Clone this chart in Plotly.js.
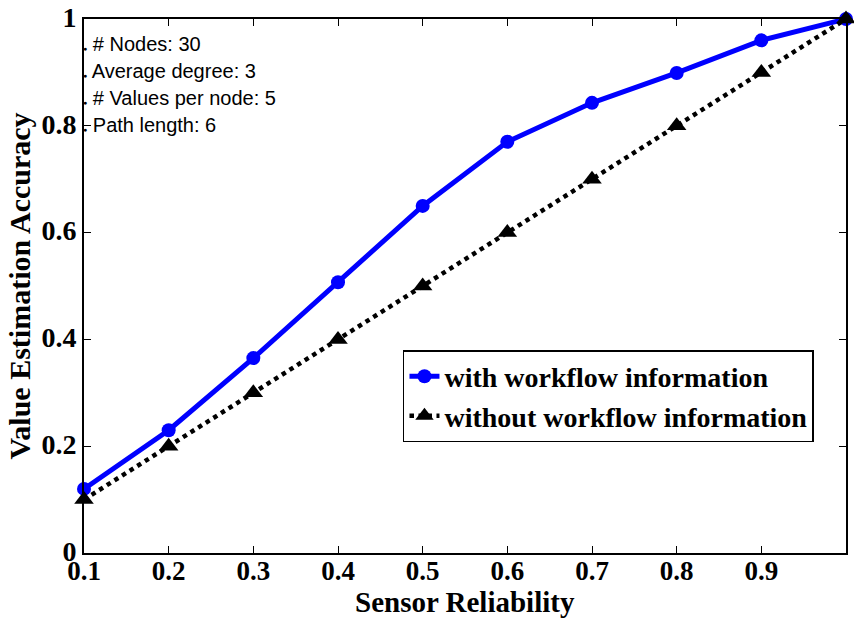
<!DOCTYPE html>
<html><head><meta charset="utf-8">
<script src="https://cdn.plot.ly/plotly-3.0.1.min.js"></script>
<style>body{margin:0;background:#fff}#chart{width:854px;height:618px}</style>
</head><body><div id="chart"></div>
<script>
var reliability = [0.1,0.2,0.3,0.4,0.5,0.6,0.7,0.8,0.9,1.0];
var withWorkflow = [0.12,0.23,0.365,0.507,0.65,0.77,0.843,0.899,0.96,1.0];
var withoutWorkflow = [0.1,0.2,0.3,0.4,0.5,0.6,0.7,0.8,0.9,1.0];
var xTickVals = [0.1,0.2,0.3,0.4,0.5,0.6,0.7,0.8,0.9];
var xTickText = ['0.1','0.2','0.3','0.4','0.5','0.6','0.7','0.8','0.9'];
var yTickVals = [0,0.2,0.4,0.6,0.8,1];
var yTickText = ['0','0.2','0.4','0.6','0.8','1'];
var infoLines = ['# Nodes: 30','Average degree: 3','# Values per node: 5','Path length: 6'];
var infoY = [0.953,0.903,0.852,0.802];

var traces = [
  {x: reliability, y: withWorkflow, mode:'lines+markers', name:'with workflow information',
   line:{color:'#0000ff', width:5}, marker:{symbol:'circle', size:14, color:'#0000ff'}, cliponaxis:false},
  {x: reliability, y: withoutWorkflow, mode:'lines+markers', name:'without workflow information',
   line:{color:'#000000', width:4.5, dash:'dot'}, marker:{symbol:'triangle-up', size:17, color:'#000000'}, cliponaxis:false}
];
var serif = 'Liberation Serif, Times New Roman, serif';
var annotations = infoLines.map(function(t,i){
  return {xref:'x', yref:'y', x:0.1, y:infoY[i], xanchor:'left', yanchor:'middle', xshift:-3,
    text:'<span style="font-size:7px">●</span> '+t, showarrow:false,
    font:{family:'Liberation Sans, Arial, sans-serif', size:20, color:'#000'}};
});
annotations.push({xref:'paper', yref:'paper', x:0.5, y:-0.091, xanchor:'center', yanchor:'middle',
  text:'<b>Sensor Reliability</b>', showarrow:false, font:{family:serif, size:29, color:'#000'}});
var layout = {
  width:854, height:618,
  margin:{l:84, r:8, t:19, b:65},
  paper_bgcolor:'#fff', plot_bgcolor:'#fff',
  showlegend:true,
  legend:{x:0.4186, y:0.380, xanchor:'left', yanchor:'top', bgcolor:'#fff', bordercolor:'#000', borderwidth:1.5,
    font:{family:serif, size:28, color:'#000', weight:'bold'},
    itemwidth:30, tracegroupgap:0},
  xaxis:{range:[0.1,1.0], tickvals:xTickVals, ticktext:xTickText, ticks:'inside', ticklen:7, tickcolor:'#000',
    showline:true, linecolor:'#000', linewidth:2, mirror:'ticks', showgrid:false, zeroline:false,
    tickfont:{family:serif, size:27, color:'#000', weight:'bold'}, ticklabelstandoff:-7},
  yaxis:{range:[0,1], tickvals:yTickVals, ticktext:yTickText, ticks:'inside', ticklen:7, tickcolor:'#000',
    showline:true, linecolor:'#000', linewidth:2, mirror:'ticks', showgrid:false, zeroline:false,
    tickfont:{family:serif, size:28, color:'#000', weight:'bold'}, ticklabelshift:-2,
    title:{text:'<b>Value Estimation Accuracy</b>', standoff:2, font:{family:serif, size:30, color:'#000'}}},
  annotations: annotations
};
Plotly.newPlot('chart', traces, layout, {displayModeBar:false, staticPlot:true});
</script></body></html>
